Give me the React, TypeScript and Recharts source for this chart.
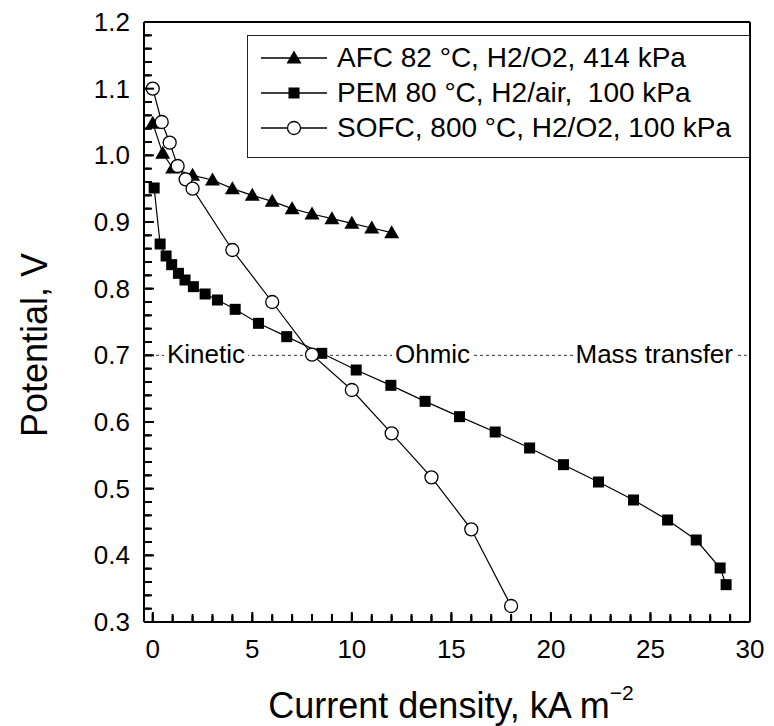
import {
    ScatterChart,
    Scatter,
    XAxis,
    YAxis,
    ReferenceLine,
    Legend
} from 'recharts';

const FONT = "'Liberation Sans', Arial, Helvetica, sans-serif";

// AFC 82 °C, H2/O2, 414 kPa
const afcCurrent = [0, 0.5, 1, 2, 3, 4, 5, 6, 7, 8, 9, 10, 11, 12];
const afcPotential = [1.048, 1.003, 0.981, 0.97, 0.963, 0.95, 0.94, 0.931, 0.92, 0.912, 0.905, 0.898, 0.891, 0.884];

// PEM 80 °C, H2/air, 100 kPa
const pemCurrent = [0.07, 0.37, 0.67, 0.95, 1.29, 1.62, 2.04, 2.63, 3.25, 4.14, 5.31, 6.73, 8.49, 10.22, 11.96, 13.68, 15.41, 17.2, 18.93, 20.63, 22.39, 24.15, 25.86, 27.3, 28.5, 28.8];
const pemPotential = [0.951, 0.867, 0.849, 0.836, 0.823, 0.813, 0.803, 0.792, 0.783, 0.769, 0.748, 0.728, 0.703, 0.678, 0.655, 0.631, 0.608, 0.585, 0.561, 0.536, 0.51, 0.483, 0.453, 0.423, 0.381, 0.356];

// SOFC, 800 °C, H2/O2, 100 kPa
const sofcCurrent = [0, 0.45, 0.85, 1.25, 1.65, 2, 4, 6, 8, 10, 12, 14, 16, 18];
const sofcPotential = [1.1, 1.05, 1.019, 0.984, 0.964, 0.95, 0.858, 0.78, 0.701, 0.648, 0.583, 0.517, 0.439, 0.324];

const seriesNames = [
    'AFC 82 °C, H2/O2, 414 kPa',
    'PEM 80 °C, H2/air,  100 kPa',
    'SOFC, 800 °C, H2/O2, 100 kPa',
];

const xTickLabels = ['0', '5', '10', '15', '20', '25', '30'];
const yTickLabels = ['0.3', '0.4', '0.5', '0.6', '0.7', '0.8', '0.9', '1.0', '1.1', '1.2'];
const regionLabels = ['Kinetic', 'Ohmic', 'Mass transfer'];
const regionPotential = 0.7;

const X_DOMAIN: [number, number] = [-0.44, 30];
const Y_DOMAIN: [number, number] = [0.3, 1.2];

// minor ticks: every 1 kA m-2 and every 0.02 V
const xTicks = Array.from({ length: 31 }, (_, i) => i);
const yTicks = Array.from({ length: 46 }, (_, i) => +(0.3 + i * 0.02).toFixed(2));

const toPoints = (xs: number[], ys: number[]) => xs.map((x, i) => ({ x, y: ys[i] }));
const afcData = toPoints(afcCurrent, afcPotential);
const pemData = toPoints(pemCurrent, pemPotential);
const sofcData = toPoints(sofcCurrent, sofcPotential);

const isMajorX = (v: number) => xTickLabels.includes(String(v));
const isMajorY = (v: number) => Math.abs(v * 10 - Math.round(v * 10)) < 1e-6;

// markers
const TriangleMark = ({ cx, cy }: any) => (
    <polygon points={`${cx},${cy - 7.5} ${cx - 7.5},${cy + 5.5} ${cx + 7.5},${cy + 5.5}`} fill="#000" />
);
const SquareMark = ({ cx, cy }: any) => (
    <rect x={cx - 5.5} y={cy - 5.5} width={11} height={11} fill="#000" />
);
const CircleMark = ({ cx, cy }: any) => (
    <circle cx={cx} cy={cy} r={6.5} fill="#fff" stroke="#000" strokeWidth={1.3} />
);
const MARKERS = [TriangleMark, SquareMark, CircleMark];

// native tick lines point inward (negative tickSize); tickMargin brings x/y back onto the axis line
const TICK = 8;
const tickStroke = { stroke: '#000', strokeWidth: 2 };

function BottomTick({ x, y, payload }: any) {
    const major = isMajorX(payload.value);
    const len = major ? 10 : 6;
    return (
        <g>
            <rect x={+x - 1} y={+y - len} width={2} height={len} fill="#000" />
            {major && (
                <text x={+x} y={+y + 36} textAnchor="middle" fontSize={26} fontFamily={FONT} fill="#000">
                    {payload.value}
                </text>
            )}
        </g>
    );
}

function LeftTick({ x, y, payload }: any) {
    const major = isMajorY(payload.value);
    const len = major ? 10 : 6;
    return (
        <g>
            <rect x={+x} y={+y - 1} width={len} height={2} fill="#000" />
            {major && (
                <text x={+x - 14} y={+y + 9} textAnchor="end" fontSize={26} fontFamily={FONT} fill="#000">
                    {yTickLabels[Math.round((payload.value - 0.3) * 10)]}
                </text>
            )}
        </g>
    );
}

const XTitle = ({ viewBox }: any) => (
    <text
        x={viewBox.x + viewBox.width / 2 + 4}
        y={viewBox.y + 96}
        textAnchor="middle"
        fontSize={36}
        fontFamily={FONT}
        fill="#000"
    >
        Current density, kA m
        <tspan dy={-18} fontSize={21}>−2</tspan>
    </text>
);

const YTitle = ({ viewBox }: any) => {
    const cx = 47;
    const cy = viewBox.y + viewBox.height / 2 + 23;
    return (
        <text
            x={cx}
            y={cy}
            transform={`rotate(-90, ${cx}, ${cy})`}
            textAnchor="middle"
            fontSize={36}
            fontFamily={FONT}
            fill="#000"
        >
            Potential, V
        </text>
    );
};

// Kinetic / Ohmic / Mass transfer text sitting on the dashed 0.7 V line
const RegionLabels = ({ viewBox }: any) => {
    const { x, y, width } = viewBox;
    const base = y + 8;
    return (
        <g fontSize={26} fontFamily={FONT} fill="#000">
            <rect x={x + 20} y={y - 12} width={84} height={24} fill="#fff" />
            <text x={x + 23} y={base}>{regionLabels[0]}</text>
            <rect x={x + 248} y={y - 12} width={81} height={24} fill="#fff" />
            <text x={x + 251} y={base}>{regionLabels[1]}</text>
            <rect x={x + width - 177} y={y - 12} width={163} height={24} fill="#fff" />
            <text x={x + width - 17} y={base} textAnchor="end">{regionLabels[2]}</text>
        </g>
    );
};

const renderLegend = ({ payload }: any) => (
    <div
        style={{
            boxSizing: 'border-box',
            width: 503,
            height: 123,
            border: '1.5px solid #222',
            background: '#fff',
            padding: '4px 0 0 13px',
            fontFamily: FONT,
            fontSize: 28,
            color: '#000',
        }}
    >
        {(payload || []).map((entry: any, i: number) => {
            const idx = seriesNames.indexOf(entry.value);
            const Marker = MARKERS[idx >= 0 ? idx : i];
            return (
                <div key={entry.value} style={{ display: 'flex', alignItems: 'center', height: 35 }}>
                    <svg width={66} height={20} style={{ marginRight: 10 }}>
                        <line x1={0} x2={66} y1={10} y2={10} stroke="#000" strokeWidth={1.3} />
                        <Marker cx={33} cy={10} />
                    </svg>
                    <span style={{ whiteSpace: 'pre', lineHeight: '35px' }}>{entry.value}</span>
                </div>
            );
        })}
    </div>
);

const lineStyle = { stroke: '#000', strokeWidth: 1.2 };
const frameLine = { stroke: '#000', strokeWidth: 2 };

export default function App() {
    return (
        <div style={{ position: 'absolute', left: 0, top: 0, width: 774, height: 726 }}>
            <ScatterChart width={774} height={726} margin={{ top: 21, right: 23, bottom: 0, left: 0 }}>
                <XAxis
                    xAxisId="x"
                    dataKey="x"
                    type="number"
                    domain={X_DOMAIN}
                    allowDataOverflow
                    ticks={xTicks}
                    interval={0}
                    height={104}
                    tickLine={tickStroke}
                    tickSize={-TICK}
                    tickMargin={TICK}
                    tick={BottomTick}
                    axisLine={frameLine}
                    label={XTitle}
                />
                <XAxis
                    xAxisId="top"
                    orientation="top"
                    dataKey="x"
                    type="number"
                    domain={X_DOMAIN}
                    allowDataOverflow
                    ticks={xTicks}
                    interval={0}
                    height={1}
                    tickLine={tickStroke}
                    tickSize={-TICK}
                    tick={false}
                    axisLine={frameLine}
                />
                <YAxis
                    yAxisId="y"
                    dataKey="y"
                    type="number"
                    domain={Y_DOMAIN}
                    allowDataOverflow
                    ticks={yTicks}
                    interval={0}
                    width={144}
                    tickLine={tickStroke}
                    tickSize={-TICK}
                    tickMargin={TICK}
                    tick={LeftTick}
                    axisLine={frameLine}
                    label={YTitle}
                />
                <YAxis
                    yAxisId="right"
                    orientation="right"
                    dataKey="y"
                    type="number"
                    domain={Y_DOMAIN}
                    allowDataOverflow
                    ticks={yTicks}
                    interval={0}
                    width={1}
                    tickLine={tickStroke}
                    tickSize={-TICK}
                    tick={false}
                    axisLine={frameLine}
                />

                <ReferenceLine
                    xAxisId="x"
                    yAxisId="y"
                    y={regionPotential}
                    stroke="#333"
                    strokeWidth={1}
                    strokeDasharray="3 3"
                    label={RegionLabels}
                />

                <Legend
                    layout="vertical"
                    verticalAlign="middle"
                    align="center"
                    content={renderLegend}
                    wrapperStyle={{ position: 'absolute', left: 247, top: 35, width: 503, height: 123 }}
                />

                <Scatter
                    name={seriesNames[0]}
                    data={afcData}
                    xAxisId="x"
                    yAxisId="y"
                    line={lineStyle}
                    lineType="joint"
                    shape={(p: any) => <TriangleMark cx={p.cx} cy={p.cy} />}
                    isAnimationActive={false}
                />
                <Scatter
                    name={seriesNames[1]}
                    data={pemData}
                    xAxisId="x"
                    yAxisId="y"
                    line={lineStyle}
                    lineType="joint"
                    shape={(p: any) => <SquareMark cx={p.cx} cy={p.cy} />}
                    isAnimationActive={false}
                />
                <Scatter
                    name={seriesNames[2]}
                    data={sofcData}
                    xAxisId="x"
                    yAxisId="y"
                    line={lineStyle}
                    lineType="joint"
                    shape={(p: any) => <CircleMark cx={p.cx} cy={p.cy} />}
                    isAnimationActive={false}
                />
            </ScatterChart>
        </div>
    );
}
